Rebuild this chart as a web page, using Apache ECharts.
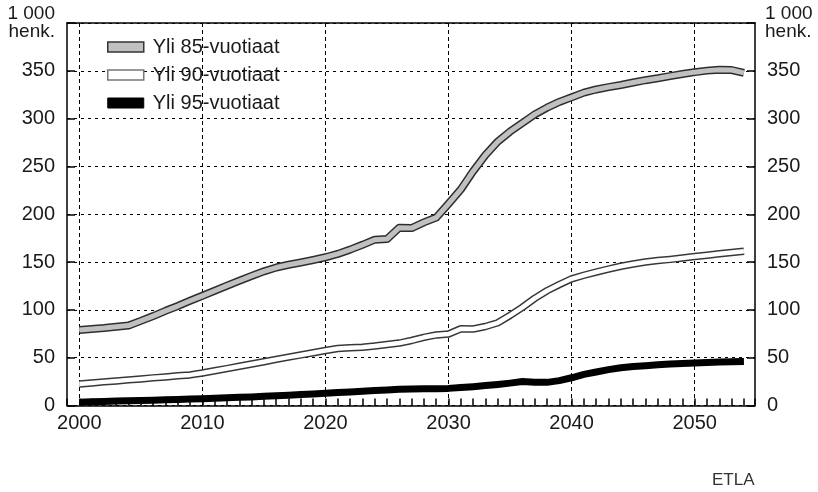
<!DOCTYPE html>
<html>
<head>
<meta charset="utf-8">
<script src="https://cdn.jsdelivr.net/npm/echarts@6/dist/echarts.min.js"></script>
<style>html,body{margin:0;padding:0;background:#fff}#chart{width:818px;height:492px}</style>
</head>
<body>
<div id="chart"></div>
<script>
// ---- data ----
const years = [2000,2001,2002,2003,2004,2005,2006,2007,2008,2009,
  2010,2011,2012,2013,2014,2015,2016,2017,2018,2019,
  2020,2021,2022,2023,2024,2025,2026,2027,2028,2029,
  2030,2031,2032,2033,2034,2035,2036,2037,2038,2039,
  2040,2041,2042,2043,2044,2045,2046,2047,2048,2049,
  2050,2051,2052,2053,2054];
const over85 = [79,80,81,82.3,83.6,88.5,93.5,99,104,109.5,
  114.7,120,125.3,130.5,135.5,140.3,144.3,147.2,149.6,152.2,
  155,158.5,163,168,173.4,174,186,185.5,191.5,196.5,
  211,226,245,262,276,286.5,295.5,304.4,311.5,317.5,
  322.3,327.2,330.5,333,335.2,337.8,340.2,342.2,344.5,346.6,
  348.6,350.2,351,350.8,347.8];
const over90 = [22.6,23.6,24.7,25.7,26.8,27.8,28.9,29.9,31,32,
  34,36.3,38.6,41,43.4,45.8,48.2,50.6,52.9,55.2,
  57.5,59.6,60.4,61,62.2,63.8,65.3,68,71.3,73.8,
  74.8,80.2,80,82.6,86.5,94.2,102.6,112,120,126.5,
  132.5,136.2,139.6,142.7,145.6,148,150,151.6,152.8,154.2,
  155.8,157.2,158.6,160,161.4];
const over95 = [3.5,3.8,4.2,4.6,5,5.3,5.6,6,6.3,6.7,
  7,7.5,8,8.5,9,9.6,10.2,10.8,11.5,12.1,
  12.7,13.5,14.2,15,15.6,16.3,16.9,17.2,17.4,17.6,
  17.9,18.8,19.7,20.8,22,23.4,25,24.2,24.2,26,
  29,32.5,35,37.5,39.5,40.8,41.6,42.5,43.3,44,
  44.5,45,45.5,45.8,46];
const seriesNames = ['Yli 85-vuotiaat','Yli 90-vuotiaat','Yli 95-vuotiaat'];
const xTickLabels = [2000,2010,2020,2030,2040,2050];
const yTickLabels = [0,50,100,150,200,250,300,350];
const unitLabel = '1 000\nhenk.';
const sourceLabel = 'ETLA';

// ---- chart ----
const FONT = "'Liberation Sans', Arial, Helvetica, sans-serif";
const TXT = '#1a1a1a';
const pairs = arr => years.map((y, i) => [y, arr[i]]);
const decadeColors = years.slice(0, 10).map((_, i) => i === 1 ? '#000' : 'rgba(0,0,0,0)');

function lineSeries(name, data, color, width, z) {
  return {
    type: 'line', name: name, data: pairs(data), showSymbol: false, symbol: 'none',
    lineStyle: { color: color, width: width, join: 'round', cap: 'butt' },
    itemStyle: { color: color }, z: z, silent: true, animation: false
  };
}

const chart = echarts.init(document.getElementById('chart'), null, { renderer: 'canvas' });
chart.setOption({
  animation: false,
  backgroundColor: '#fff',
  grid: { left: 67, right: 63, top: 23, bottom: 86.5, containLabel: false, outerBoundsMode: 'none' },
  legend: {
    orient: 'vertical', left: 107, top: 37, padding: 0, itemGap: 8,
    itemWidth: 36, itemHeight: 10, selectedMode: false,
    textStyle: { fontSize: 20, fontFamily: FONT, color: TXT, padding: [0, 0, 0, 4] },
    data: [
      { name: seriesNames[0], icon: 'rect', itemStyle: { color: '#c0c0c0', borderColor: '#333', borderWidth: 1.5 } },
      { name: seriesNames[1], icon: 'rect', itemStyle: { color: '#ffffff', borderColor: '#777', borderWidth: 1.5 } },
      { name: seriesNames[2], icon: 'rect', itemStyle: { color: '#000000', borderColor: '#000', borderWidth: 1 } }
    ]
  },
  xAxis: [{
    type: 'value', min: 1999, max: 2054.9, interval: 1, position: 'bottom',
    axisLine: { show: true, onZero: false, lineStyle: { color: '#000', width: 1.5 } },
    axisTick: { show: true, inside: true, length: 7, lineStyle: { color: '#000', width: 1.5 } },
    axisLabel: {
      formatter: v => xTickLabels.indexOf(v) >= 0 ? String(v) : '',
      margin: 8, fontSize: 20, fontFamily: FONT, color: TXT
    },
    splitLine: { show: true, lineStyle: { color: decadeColors, type: [4, 3], width: 1 } }
  }, {
    type: 'value', min: 1999, max: 2054.9, position: 'top',
    axisLine: { show: true, onZero: false, lineStyle: { color: '#000', width: 1.5 } },
    axisTick: { show: false }, axisLabel: { show: false }, splitLine: { show: false }
  }],
  yAxis: [{
    type: 'value', min: 0, max: 400, interval: 50, position: 'left',
    axisLine: { show: true, lineStyle: { color: '#000', width: 1.5 } },
    axisTick: { show: true, inside: true, length: 8, lineStyle: { color: '#000', width: 1.5 } },
    axisLabel: { formatter: v => yTickLabels.indexOf(v) >= 0 ? String(v) : '', margin: 12, fontSize: 20, fontFamily: FONT, color: TXT },
    splitLine: { show: true, lineStyle: { color: '#000', type: [3, 4], width: 1 } }
  }, {
    type: 'value', min: 0, max: 400, interval: 50, position: 'right',
    axisLine: { show: true, lineStyle: { color: '#000', width: 1.5 } },
    axisTick: { show: true, inside: true, length: 8, lineStyle: { color: '#000', width: 1.5 } },
    axisLabel: { formatter: v => yTickLabels.indexOf(v) >= 0 ? String(v) : '', margin: 12, fontSize: 20, fontFamily: FONT, color: TXT },
    splitLine: { show: false }
  }],
  series: [
    lineSeries('_outline85', over85, '#2e2e2e', 8, 2),
    lineSeries(seriesNames[0], over85, '#c0c0c0', 5, 3),
    lineSeries('_outline90', over90, '#383838', 7.5, 2),
    lineSeries(seriesNames[1], over90, '#ffffff', 4.5, 3),
    lineSeries(seriesNames[2], over95, '#000000', 7, 3)
  ],
  graphic: [
    { type: 'text', x: 55, y: 5, silent: true, style: { text: unitLabel, font: '19px ' + FONT, fill: TXT, align: 'right', lineHeight: 18 } },
    { type: 'text', x: 765, y: 5, silent: true, style: { text: unitLabel, font: '19px ' + FONT, fill: TXT, align: 'left', lineHeight: 18 } },
    { type: 'text', x: 712, y: 472, silent: true, style: { text: sourceLabel, font: '17px ' + FONT, fill: '#333' } }
  ]
});
</script>
</body>
</html>
